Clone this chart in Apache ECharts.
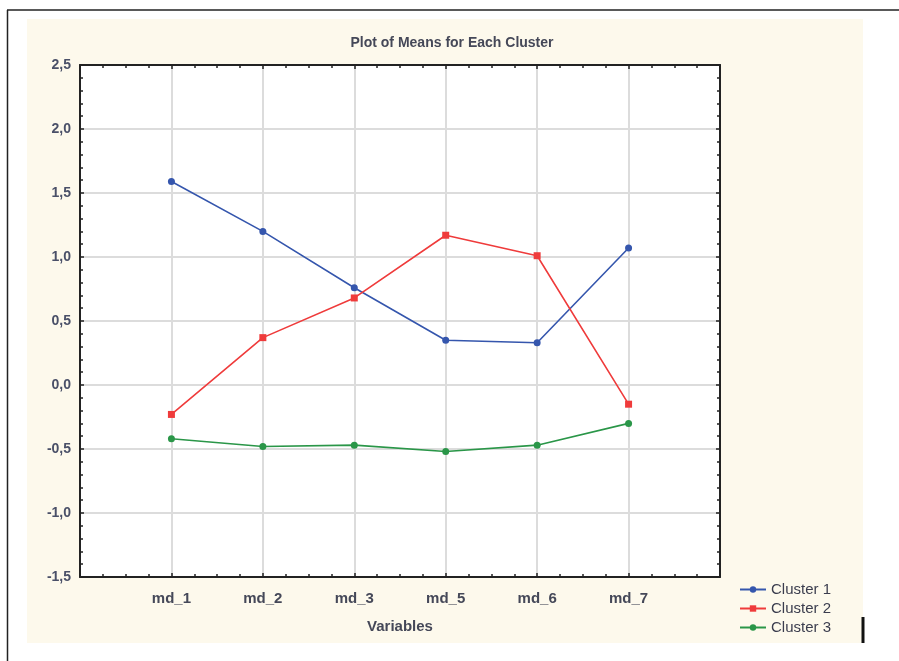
<!DOCTYPE html>
<html lang="en">
<head>
<meta charset="UTF-8">
<title>Plot of Means for Each Cluster</title>
<style>
  html, body { margin: 0; padding: 0; background: #fff; }
  #main { width: 899px; height: 661px; }
</style>
</head>
<body>
<div id="main"></div>
<script src="https://cdn.jsdelivr.net/npm/echarts@6/dist/echarts.min.js"></script>
<script>
var variables = ['md_1', 'md_2', 'md_3', 'md_5', 'md_6', 'md_7'];
var cluster1 = [1.59, 1.20, 0.76, 0.35, 0.33, 1.07];
var cluster2 = [-0.23, 0.37, 0.68, 1.17, 1.01, -0.15];
var cluster3 = [-0.42, -0.48, -0.47, -0.52, -0.47, -0.30];
var seriesNames = ['Cluster 1', 'Cluster 2', 'Cluster 3'];
var seriesColors = ['#3556ad', '#ef3b3b', '#2a9648'];

var textColor = '#3b3d4e';
var font = 'Liberation Sans';

function pts(vals) {
  return vals.map(function (v, i) { return [i + 1, v]; });
}

var myChart = echarts.init(document.getElementById('main'));

var axisBase = {
  axisLine: { onZero: false, lineStyle: { color: '#222', width: 2 } },
  axisTick: { inside: true, length: 4, lineStyle: { color: '#222', width: 1.5 } },
  minorTick: { show: true, length: 3, lineStyle: { color: '#222', width: 1.5 } }
};

myChart.setOption({
  backgroundColor: '#fff',
  animation: false,
  graphic: [
    { type: 'rect', shape: { x: 27, y: 19, width: 836, height: 624 }, style: { fill: '#fdf9ec' }, z: -10 },
    { type: 'line', shape: { x1: 7, y1: 10, x2: 899, y2: 10 }, style: { stroke: '#222', lineWidth: 1.5 } },
    { type: 'line', shape: { x1: 7.5, y1: 10, x2: 7.5, y2: 661 }, style: { stroke: '#222', lineWidth: 1.5 } },
    { type: 'line', shape: { x1: 863, y1: 617, x2: 863, y2: 643 }, style: { stroke: '#111', lineWidth: 3 } }
  ],
  title: {
    text: 'Plot of Means for Each Cluster',
    left: 447, top: 31, textAlign: 'center',
    textStyle: { fontFamily: font, fontSize: 14, fontWeight: 'bold', color: '#454858' }
  },
  legend: {
    orient: 'vertical',
    left: 734, top: 577,
    itemWidth: 26, itemHeight: 8, itemGap: 4,
    data: seriesNames,
    textStyle: { fontFamily: font, fontSize: 15, color: textColor }
  },
  grid: { left: 80, right: 179, top: 65, bottom: 84, show: true, backgroundColor: '#fff', borderWidth: 0 },
  xAxis: [
    Object.assign({}, axisBase, {
      type: 'value', min: 0, max: 7, interval: 1,
      name: 'Variables', nameLocation: 'middle', nameGap: 42,
      nameTextStyle: { fontFamily: font, fontSize: 15, fontWeight: 'bold', color: '#454858' },
      minorTick: Object.assign({}, axisBase.minorTick, { splitNumber: 4 }),
      axisLabel: {
        margin: 14, fontFamily: font, fontSize: 15, fontWeight: 'bold', color: '#454858',
        formatter: function (v) { return variables[v - 1] || ''; }
      },
      splitLine: { show: true, lineStyle: { color: '#dcdcdc', width: 2 } }
    }),
    Object.assign({}, axisBase, {
      type: 'value', min: 0, max: 7, interval: 1, position: 'top',
      minorTick: Object.assign({}, axisBase.minorTick, { splitNumber: 4 }),
      axisLabel: { show: false }, splitLine: { show: false }
    })
  ],
  yAxis: [
    Object.assign({}, axisBase, {
      type: 'value', min: -1.5, max: 2.5, interval: 0.5,
      minorTick: Object.assign({}, axisBase.minorTick, { splitNumber: 5 }),
      axisLabel: {
        margin: 9, fontFamily: font, fontSize: 14, fontWeight: 'bold', color: '#4a5068',
        formatter: function (v) { return v.toFixed(1).replace('.', ','); }
      },
      splitLine: { show: true, lineStyle: { color: '#dcdcdc', width: 2 } }
    }),
    Object.assign({}, axisBase, {
      type: 'value', min: -1.5, max: 2.5, interval: 0.5, position: 'right',
      minorTick: Object.assign({}, axisBase.minorTick, { splitNumber: 5 }),
      axisLabel: { show: false }, splitLine: { show: false }
    })
  ],
  series: [cluster1, cluster2, cluster3].map(function (vals, i) {
    return {
      name: seriesNames[i],
      type: 'line',
      data: pts(vals),
      symbol: i === 1 ? 'rect' : 'circle',
      symbolSize: 7,
      color: seriesColors[i],
      lineStyle: { width: 1.6, color: seriesColors[i] },
      itemStyle: { color: seriesColors[i] }
    };
  })
});
</script>
</body>
</html>
